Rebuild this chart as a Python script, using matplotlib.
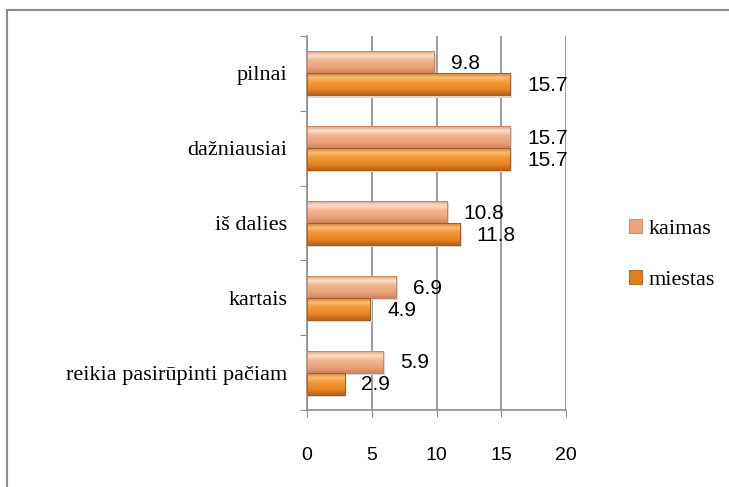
import matplotlib
matplotlib.use("Agg")
import matplotlib.pyplot as plt
from matplotlib.colors import LinearSegmentedColormap
from matplotlib.lines import Line2D
import numpy as np

categories = ["pilnai", "dažniausiai", "iš dalies", "kartais", "reikia pasirūpinti pačiam"]
kaimas = [9.8, 15.7, 10.8, 6.9, 5.9]
miestas = [15.7, 15.7, 11.8, 4.9, 2.9]
series_names = ["kaimas", "miestas"]
x_ticks = [0, 5, 10, 15, 20]

GRID = "#8C8C8C"
# top -> bottom shading of each bar (imitates the glossy Excel style)
kaimas_cmap = LinearSegmentedColormap.from_list(
    "kaimas", [(0, "#E09A74"), (0.2, "#FCE2CF"), (0.4, "#F2B792"), (0.75, "#EBA27A"), (1, "#CF845E")])
miestas_cmap = LinearSegmentedColormap.from_list(
    "miestas", [(0, "#DA7A2C"), (0.2, "#F9BE7C"), (0.4, "#F29A3A"), (0.75, "#E8841F"), (1, "#B9601A")])

fig = plt.figure(figsize=(7.29, 4.87), dpi=100)
fig.patch.set_facecolor("white")
# chart frame: only left and top edges fall inside the picture
fig.add_artist(Line2D([7 / 729, 7 / 729], [0, 477 / 487], transform=fig.transFigure,
                      color="#8A8A8A", linewidth=1.5))
fig.add_artist(Line2D([7 / 729, 1], [477 / 487, 477 / 487], transform=fig.transFigure,
                      color="#8A8A8A", linewidth=1.5))

ax = fig.add_axes([307 / 729, 77 / 487, 259 / 729, 374 / 487])

y = np.arange(len(categories))[::-1].astype(float)
h = 0.294
off = 0.147
b1 = ax.barh(y + off, kaimas, h, color="#EBA47C", edgecolor="#C9825C", linewidth=0.6,
             label=series_names[0], zorder=3)
b2 = ax.barh(y - off, miestas, h, color="#E27C1E", edgecolor="#A9580F", linewidth=0.6,
             label=series_names[1], zorder=3)

grad = np.linspace(0, 1, 64).reshape(-1, 1)
for bars, cmap in ((b1, kaimas_cmap), (b2, miestas_cmap)):
    for bar in bars:
        x0, y0, w, hh = bar.get_x(), bar.get_y(), bar.get_width(), bar.get_height()
        # soft shadow under the bar
        ax.barh(y0 - 0.03 + hh / 2, w + 0.15, hh, color="#D8D8D8", linewidth=0, zorder=2)
        ax.imshow(grad, cmap=cmap, extent=(x0, x0 + w, y0, y0 + hh), origin="upper",
                  aspect="auto", zorder=3.5, interpolation="bilinear")
        ax.barh(y0 + hh / 2, w, hh, fill=False, edgecolor=bar.get_edgecolor(), linewidth=0.6, zorder=4)

for bars, vals in ((b1, kaimas), (b2, miestas)):
    for bar, v in zip(bars, vals):
        ax.annotate(f"{v}", (bar.get_width(), bar.get_y() + bar.get_height() / 2),
                    xytext=(12, -1), textcoords="offset points", ha="left", va="center",
                    fontsize=15, family="Liberation Sans", color="black", zorder=5)

ax.set_xlim(0, 20)
ax.set_ylim(-0.5, len(categories) - 0.5)
ax.set_xticks(x_ticks)
ax.set_xticklabels([str(t) for t in x_ticks], fontsize=14, family="Liberation Sans")
ax.tick_params(axis="x", direction="out", length=5, color=GRID, pad=22)

ax.set_yticks(np.arange(len(categories) + 1) - 0.5)
ax.set_yticklabels([])
ax.set_yticks(y, minor=True)
ax.set_yticklabels(categories, minor=True, fontsize=16, family="Liberation Serif")
ax.tick_params(axis="y", which="major", direction="out", length=5, color=GRID)
ax.tick_params(axis="y", which="minor", length=0, pad=14)

ax.grid(axis="x", color=GRID, linewidth=1.2, zorder=0)
for s in ("top", "right"):
    ax.spines[s].set_visible(False)
for s in ("left", "bottom"):
    ax.spines[s].set_color(GRID)
    ax.spines[s].set_linewidth(1.2)

fig.legend(handles=[b1, b2], labels=series_names, loc="center left",
           bbox_to_anchor=(0.835, 0.478), frameon=False, handlelength=0.6, handleheight=0.6,
           handletextpad=0.3, labelspacing=1.4, prop={"family": "Liberation Serif", "size": 16})

fig.savefig("out.png", dpi=100)
